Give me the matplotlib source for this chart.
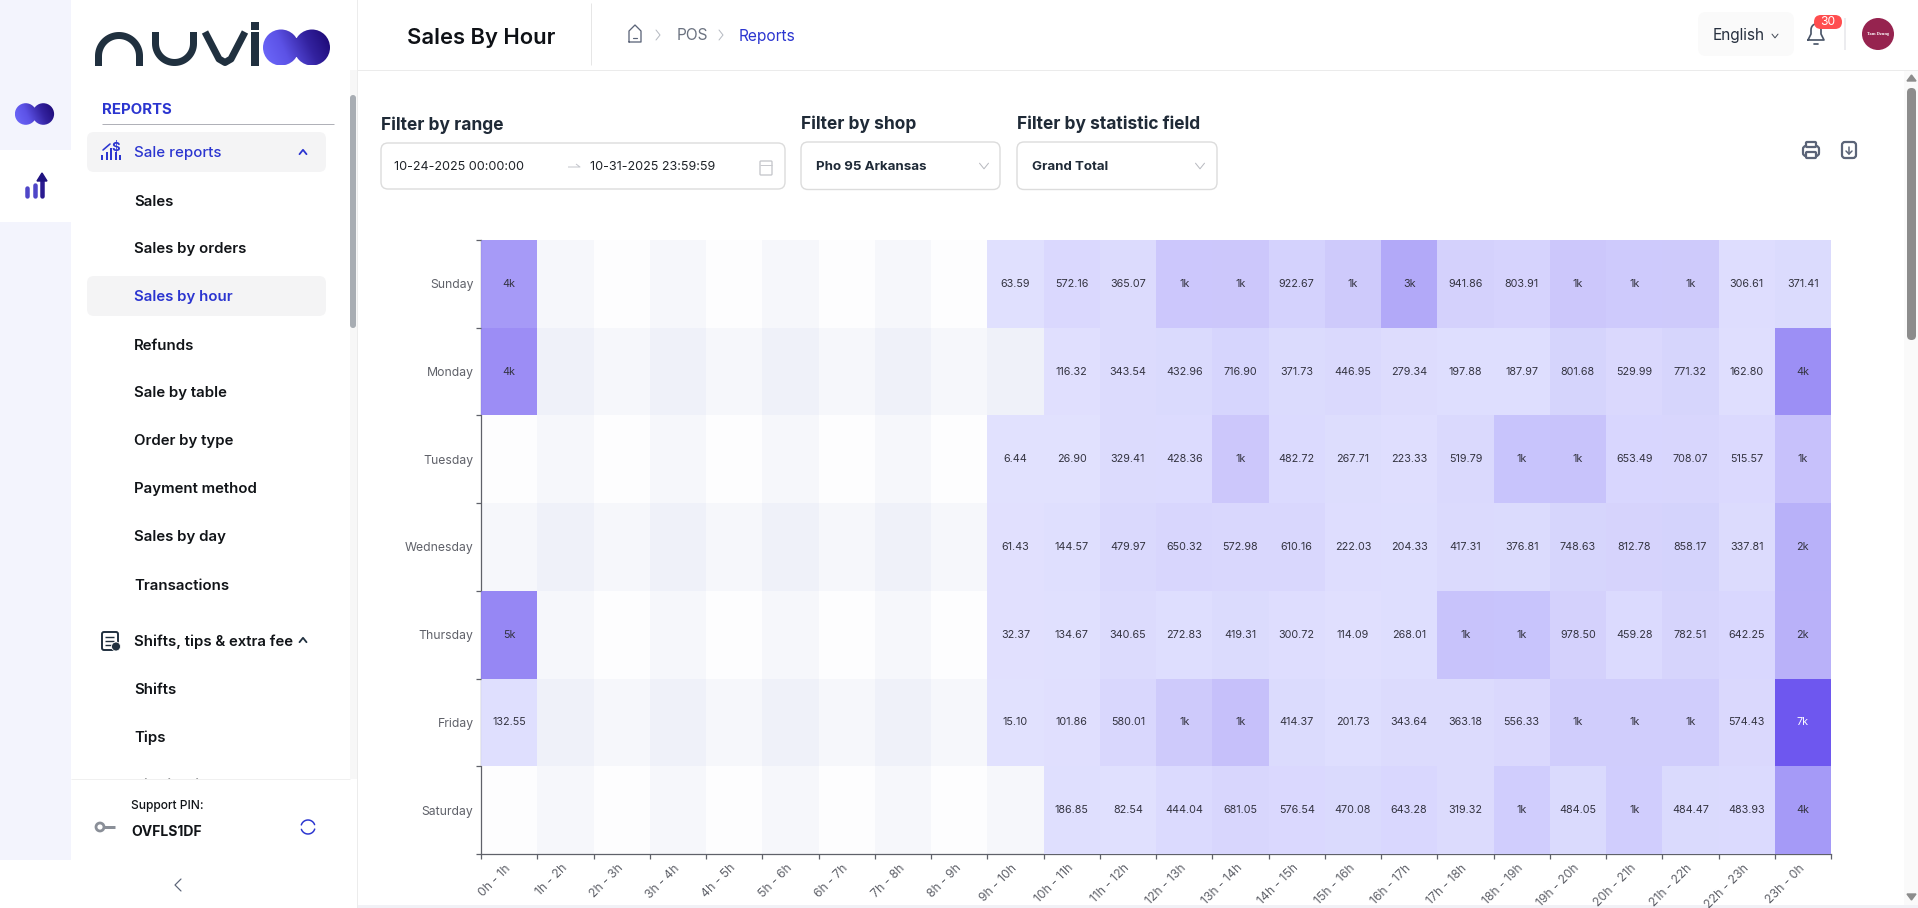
#!/usr/bin/env python3

import numpy as np
import matplotlib
matplotlib.use('Agg')
import matplotlib.pyplot as plt
from matplotlib.colors import LinearSegmentedColormap, to_rgba
from matplotlib.patches import Circle, FancyBboxPatch, Rectangle, PathPatch
from matplotlib.path import Path

W, H = 1918, 908
nan = np.nan

days = ['Sunday', 'Monday', 'Tuesday', 'Wednesday', 'Thursday', 'Friday', 'Saturday']
hours = ['%dh - %dh' % (i, (i + 1) % 24) for i in range(24)]

# values shown as "1k" etc are estimated from the cell colour
sunday = [4100, nan, nan, nan, nan, nan, nan, nan, nan, 63.59, 572.16, 365.07, 1500, 1500, 922.67, 1300, 3300, 941.86, 803.91, 1500, 1300, 1300, 306.61, 371.41]
monday = [4800, nan, nan, nan, nan, nan, nan, nan, nan, nan, 116.32, 343.54, 432.96, 716.90, 371.73, 446.95, 279.34, 197.88, 187.97, 801.68, 529.99, 771.32, 162.80, 4700]
tuesday = [nan, nan, nan, nan, nan, nan, nan, nan, nan, 6.44, 26.90, 329.41, 428.36, 1500, 482.72, 267.71, 223.33, 519.79, 1700, 1700, 653.49, 708.07, 515.57, 1800]
wednesday = [nan, nan, nan, nan, nan, nan, nan, nan, nan, 61.43, 144.57, 479.97, 650.32, 572.98, 610.16, 222.03, 204.33, 417.31, 376.81, 748.63, 812.78, 858.17, 337.81, 2800]
thursday = [5200, nan, nan, nan, nan, nan, nan, nan, nan, 32.37, 134.67, 340.65, 272.83, 419.31, 300.72, 114.09, 268.01, 1700, 1700, 978.50, 459.28, 782.51, 642.25, 2800]
friday = [132.55, nan, nan, nan, nan, nan, nan, nan, nan, 15.10, 101.86, 580.01, 1300, 1900, 414.37, 201.73, 343.64, 363.18, 556.33, 1200, 1200, 1200, 574.43, 7900]
saturday = [nan, nan, nan, nan, nan, nan, nan, nan, nan, nan, 186.85, 82.54, 444.04, 681.05, 576.54, 470.08, 643.28, 319.32, 1200, 484.05, 1200, 484.47, 483.93, 4100]

menu_items = ['Sales', 'Sales by orders', 'Sales by hour', 'Refunds', 'Sale by table',
              'Order by type', 'Payment method', 'Sales by day', 'Transactions']

FONT = 'Inter'
BLUE = '#2b35d0'
DARK = '#111418'
GREY = '#5f6169'
ICON = '#5b6478'


def px(size):
    return size * 0.72


def txt(ax, x, y, s, size=14, color=DARK, weight='normal', ha='left', **kw):
    # centre of the glyphs sits a bit above the anchor otherwise
    return ax.text(x, y + 1.5, s, fontsize=px(size), color=color, fontweight=weight, ha=ha,
                   va='center', family=FONT, **kw)


def box(ax, x0, y0, x1, y1, r=6, fc='white', ec='none', lw=1, z=1):
    ax.add_patch(FancyBboxPatch((x0 + r, y0 + r), x1 - x0 - 2 * r, y1 - y0 - 2 * r,
                                boxstyle='round,pad=%f,rounding_size=%f' % (r, r),
                                fc=fc, ec=ec, lw=lw, zorder=z))


def line(ax, xs, ys, color=ICON, lw=1.5, z=3, cap='round'):
    ax.plot(xs, ys, color=color, lw=px(lw), zorder=z, solid_capstyle=cap, solid_joinstyle='round')


def chevron(ax, x, y, s=4, color='#8a8f98', lw=1.0, up=False):
    d = -s / 1.6 if up else s / 1.6
    line(ax, [x - s, x, x + s], [y - d, y + d, y - d], color=color, lw=lw)


def infinity(ax, cx, cy, r, gap, z=4):
    # one gradient clipped to the two overlapping circles
    cmap = LinearSegmentedColormap.from_list('g', ['#6e6afc', '#5c52e6', '#33229f', '#1a0670'])
    grid = np.linspace(0, 1, 128)
    xx, yy = np.meshgrid(grid, grid)
    im = ax.imshow(xx * 0.8 + (1 - yy) * 0.2, cmap=cmap, vmin=0, vmax=1, aspect='auto', zorder=z,
                   extent=(cx - gap - r, cx + gap + r, cy + r, cy - r))
    left = Path.circle((cx - gap, cy), r)
    right = Path.circle((cx + gap, cy), r)
    clip = PathPatch(Path.make_compound_path(left, right), transform=ax.transData, fc='none', ec='none')
    ax.add_patch(clip)
    im.set_clip_path(clip)


def draw_logo(ax):
    c = '#20303f'
    t = np.linspace(np.pi, 2 * np.pi, 40)
    # n
    xs = np.r_[98.5, 119 + 20.5 * np.cos(t), 139.5]
    ys = np.r_[66, 56 + 20.5 * np.sin(t), 66]
    line(ax, xs, ys, color=c, lw=7, cap='butt')
    # u
    t2 = np.linspace(np.pi, 0, 40)
    xs = np.r_[155.5, 174.5 + 19 * np.cos(t2), 193.5]
    ys = np.r_[32, 43.5 + 19 * np.sin(t2), 32]
    line(ax, xs, ys, color=c, lw=7, cap='butt')
    # v
    line(ax, [205, 219, 225, 231, 245], [32, 59, 62.5, 59, 32], color=c, lw=7, cap='butt')
    # i
    ax.add_patch(Rectangle((251, 32), 8, 34, fc=c, ec='none', zorder=3))
    ax.add_patch(Rectangle((251, 22), 8, 8, fc=c, ec='none', zorder=3))
    infinity(ax, 296.5, 47.5, 18, 15.5)


def draw_sidebar(ax):
    ax.add_patch(Rectangle((0, 0), 71, 860, fc='#f3f4fd', ec='none', zorder=0))
    ax.add_patch(Rectangle((0, 150), 71, 72, fc='white', ec='none', zorder=1))
    infinity(ax, 34.5, 114, 10.8, 8.8)
    # rail chart icon
    for x, top in [(27, 188), (34.5, 185)]:
        line(ax, [x, x], [top, 196], color='#4f46c8', lw=4.5)
    line(ax, [42, 42], [180, 196], color='#2a1a90', lw=4.5)
    ax.fill([37, 42, 47], [181, 173, 181], color='#1f1280', zorder=3)

    draw_logo(ax)

    txt(ax, 102, 109, 'REPORTS', size=15, color=BLUE, weight='bold')
    line(ax, [102, 334], [123.5, 123.5], color='#b0b1b8', lw=1, cap='butt')
    box(ax, 87, 132, 326, 172, r=7, fc='#f4f4f5')
    txt(ax, 134, 152, 'Sale reports', size=15, color=BLUE, weight='medium')
    chevron(ax, 303, 152, s=3.5, color=BLUE, lw=1.8, up=True)
    # sale icon
    for i, h in enumerate([5, 8, 12, 8, 5]):
        line(ax, [102 + i * 4.5] * 2, [160, 160 - h], color=BLUE, lw=2, cap='butt')
    line(ax, [103, 110], [150, 144], color=BLUE, lw=1.6)
    txt(ax, 116, 147, '$', size=13, color=BLUE, weight='bold', ha='center')

    box(ax, 87, 276, 326, 316, r=7, fc='#f4f4f5')
    for i, item in enumerate(menu_items):
        y = 200 + i * 48
        col = BLUE if item == 'Sales by hour' else DARK
        txt(ax, 134, y, item, size=15, color=col, weight='semibold')

    # shifts section
    box(ax, 102, 632, 118, 650, r=2, fc='white', ec='#20303f', lw=1.4, z=3)
    for y in (637, 641, 645):
        line(ax, [105, 114], [y, y], color='#20303f', lw=1.4, cap='butt', z=4)
    ax.add_patch(Circle((116, 646.5), 4.5, fc='#20303f', ec='white', lw=0.6, zorder=5))
    txt(ax, 134, 640, 'Shifts, tips & extra fee', size=15, weight='semibold')
    chevron(ax, 303, 640, s=3.5, color='#20303f', lw=1.8, up=True)
    txt(ax, 134, 688, 'Shifts', size=15, weight='semibold')
    txt(ax, 134, 736, 'Tips', size=15, weight='semibold')
    txt(ax, 134, 784, 'Distribution', size=15, weight='semibold')

    # scroll bar of the menu
    ax.add_patch(Rectangle((350, 70), 7, 710, fc='#f7f7f7', ec='none', zorder=2))
    box(ax, 350, 95, 356, 328, r=3, fc='#a8adb3', z=3)

    # footer
    ax.add_patch(Rectangle((71, 779), 286, 129, fc='white', ec='none', zorder=6))
    ax.add_patch(Rectangle((0, 860), 71, 48, fc='white', ec='none', zorder=6))
    line(ax, [71, 350], [779, 779], color='#f0f0f0', lw=1, z=7, cap='butt')
    txt(ax, 131, 804, 'Support PIN:', size=12, weight='medium', zorder=8)
    txt(ax, 131, 830, 'OVFLS1DF', size=14, weight='bold', zorder=8)
    ax.add_patch(Circle((100, 827), 4, fc='white', ec='#8a8f98', lw=2, zorder=8))
    line(ax, [104, 115], [827, 827], color='#8a8f98', lw=3, z=8, cap='butt')
    t = np.linspace(0.3, 2.8, 20)
    line(ax, 308 + 7 * np.cos(t), 827 + 7 * np.sin(t), color=BLUE, lw=1.5, z=8)
    line(ax, 308 + 7 * np.cos(t + np.pi), 827 + 7 * np.sin(t + np.pi), color=BLUE, lw=1.5, z=8)
    line(ax, [181, 175, 181], [879, 885, 891], color='#5b6478', lw=1.2, z=8)
    ax.add_patch(Rectangle((356.5, 0), 1, H, fc='#ececec', ec='none', zorder=9))


def draw_header(ax):
    line(ax, [357, W], [69.5, 69.5], color='#ebebeb', lw=1, cap='butt')
    line(ax, [591, 591], [3, 65], color='#e6e6e6', lw=1, cap='butt')
    txt(ax, 407, 36, 'Sales By Hour', size=22, weight='semibold', color='#0e1116')
    # home icon
    line(ax, [629, 629, 635, 641, 641, 629], [42, 31, 25, 31, 42, 42], lw=1.3)
    line(ax, [633, 637], [38, 38], lw=1.2)
    for x in [658, 721]:
        line(ax, [x - 2, x + 2, x - 2], [30, 35, 40], color='#b6bac2', lw=1)
    txt(ax, 677, 34.5, 'POS', size=15.5, color='#6b7280')
    txt(ax, 739, 34.5, 'Reports', size=15.5, color=BLUE)

    box(ax, 1698, 12, 1794, 56, r=8, fc='#fafafa')
    txt(ax, 1713, 34, 'English', size=15.4, color='#27303f')
    chevron(ax, 1775, 36, s=3, color='#444b57', lw=1)
    # bell
    t = np.linspace(np.pi, 2 * np.pi, 20)
    xs = np.r_[1808, 1811, 1816 + 5 * np.cos(t), 1821, 1824, 1808]
    ys = np.r_[40, 34, 30 + 6 * np.sin(t), 34, 40, 40]
    line(ax, xs, ys, lw=1.7, color='#4a5568')
    line(ax, [1814, 1818], [43.5, 43.5], lw=1.7, color='#4a5568')
    box(ax, 1814, 15, 1842, 29, r=7, fc='#ff4d4f', z=4)
    txt(ax, 1828, 20.5, '30', size=12, color='white', ha='center', zorder=5)
    line(ax, [1845, 1845], [18, 50], color='#e6e6ea', lw=1.5, cap='butt')
    ax.add_patch(Circle((1878, 34), 16, fc='#96234f', ec='none', zorder=3))
    ax.text(1878, 34.5, 'Tam Dzung', fontsize=3.2, color='white', fontweight='bold', ha='center',
            va='center', family='Liberation Serif', zorder=4)


def draw_filters(ax):
    txt(ax, 381, 123.5, 'Filter by range', size=17.4, weight='bold', color='#1f2a37')
    txt(ax, 801, 122.5, 'Filter by shop', size=17.4, weight='bold', color='#1f2a37')
    txt(ax, 1017, 122.5, 'Filter by statistic field', size=17.4, weight='bold', color='#1f2a37')
    box(ax, 381, 143, 785, 189, r=7, ec='#dcdcdc')
    box(ax, 801, 142, 1000, 189.5, r=7, ec='#dcdcdc')
    box(ax, 1017, 142, 1217, 189.5, r=7, ec='#dcdcdc')
    txt(ax, 394, 165, '10-24-2025 00:00:00', size=12.6, color='#1f2328')
    line(ax, [568, 580, 576], [167, 167, 164], color='#c4c6cc', lw=1, cap='butt')
    txt(ax, 590, 165, '10-31-2025 23:59:59', size=12.6, color='#1f2328')
    box(ax, 760, 161, 772, 175, r=1, ec='#c8c9ce')
    line(ax, [760, 772], [165, 165], color='#c8c9ce', lw=1, cap='butt')
    txt(ax, 816, 165, 'Pho 95 Arkansas', size=13.3, weight='bold', color='#1f2a37')
    txt(ax, 1032, 165, 'Grand Total', size=13.3, weight='bold', color='#1f2a37')
    chevron(ax, 984, 166, s=4.5, color='#b8bac0', lw=1)
    chevron(ax, 1200, 166, s=4.5, color='#b8bac0', lw=1)
    # print icon
    box(ax, 1803, 146, 1819, 156, r=3, ec=ICON, lw=1.6)
    box(ax, 1806, 142, 1816, 147, r=1, ec=ICON, lw=1.6)
    box(ax, 1806, 152, 1816, 158, r=1, ec=ICON, lw=1.6, z=2)
    # download icon
    box(ax, 1842, 142, 1856, 158, r=3, ec=ICON, lw=1.6)
    line(ax, [1849, 1849], [147, 154], color=ICON, lw=1.5)
    line(ax, [1846, 1849, 1852], [151, 154, 151], color=ICON, lw=1.5)


def draw_scroll(ax):
    ax.add_patch(Rectangle((1904, 70), 14, 838, fc='#fafafa', ec='none', zorder=1))
    box(ax, 1907, 88, 1916, 340, r=4.5, fc='#8c8c8c', z=2)
    ax.fill([1907, 1911.5, 1916], [81, 75, 81], color='#8c8c8c', zorder=2)
    ax.fill([1907, 1911.5, 1916], [894, 900, 894], color='#8c8c8c', zorder=2)
    ax.add_patch(Rectangle((357, 905), W - 357, 3, fc='#f1f1f6', ec='none', zorder=2))


def value_label(v):
    if v >= 1000:
        return '%dk' % (v // 1000)
    return '%.2f' % v


def draw_heatmap(fig):
    left, top, right, bottom = 481, 240, 1831, 854
    ax = fig.add_axes([left / W, 1 - bottom / H, (right - left) / W, (bottom - top) / H],
                      facecolor='none', zorder=5)
    values = np.array([sunday, monday, tuesday, wednesday, thursday, friday, saturday])
    rows, cols = values.shape

    # alternating split areas behind the cells
    yy, xx = np.mgrid[0:rows, 0:cols]
    band = (yy % 2) + (xx % 2)
    band_cmap = LinearSegmentedColormap.from_list('b', ['#fdfdfe', '#f6f7fb', '#eff1f9'])
    ax.pcolormesh(np.arange(cols + 1), np.arange(rows + 1), band, cmap=band_cmap, vmin=0, vmax=2,
                  zorder=0.2, antialiased=False)

    # cells let the bands and the axis line show through a little
    cmap = LinearSegmentedColormap.from_list('heat', [to_rgba('#e1e1ff', 0.97), to_rgba('#6a52ef', 0.97)])
    cmap.set_bad((0, 0, 0, 0))
    ax.pcolormesh(np.arange(cols + 1), np.arange(rows + 1), np.ma.masked_invalid(values), cmap=cmap,
                  vmin=0, vmax=7900, zorder=1, antialiased=False)

    for r in range(rows):
        for c in range(cols):
            v = values[r, c]
            if np.isnan(v):
                continue
            color = 'white' if v > 6000 else '#333340'
            ax.text(c + 0.5, r + 0.5, value_label(v), ha='center', va='center', fontsize=px(10.8),
                    color=color, family=FONT, zorder=3)

    ax.set_xlim(0, cols)
    ax.set_ylim(rows, 0)
    for side in ('top', 'right'):
        ax.spines[side].set_visible(False)
    for side in ('left', 'bottom'):
        ax.spines[side].set_color(GREY)
        ax.spines[side].set_linewidth(0.9)
        ax.spines[side].set_zorder(0.5)

    ax.set_xticks(np.arange(cols) + 0.5)
    ax.set_xticklabels(hours, rotation=45, ha='right', va='center', rotation_mode='anchor',
                       family=FONT, fontsize=px(12.2), color=GREY)
    ax.set_yticks(np.arange(rows) + 0.5)
    ax.set_yticklabels(days, family=FONT, fontsize=px(12.2), color=GREY)
    ax.tick_params(axis='both', which='major', length=0)
    ax.tick_params(axis='x', which='major', pad=9)
    ax.tick_params(axis='y', which='major', pad=5.4)
    ax.set_xticks(np.arange(cols + 1), minor=True)
    ax.set_yticks(np.arange(rows + 1), minor=True)
    ax.tick_params(axis='both', which='minor', length=3.6, width=0.9, color=GREY)


if __name__ == '__main__':
    fig = plt.figure(figsize=(W / 100, H / 100), dpi=100, facecolor='white')
    ui = fig.add_axes([0, 0, 1, 1], zorder=1)
    ui.axis('off')

    draw_sidebar(ui)
    draw_header(ui)
    draw_filters(ui)
    draw_scroll(ui)
    ui.set_xlim(0, W)
    ui.set_ylim(H, 0)

    draw_heatmap(fig)
    fig.savefig('out.png', dpi=100, facecolor='white')
